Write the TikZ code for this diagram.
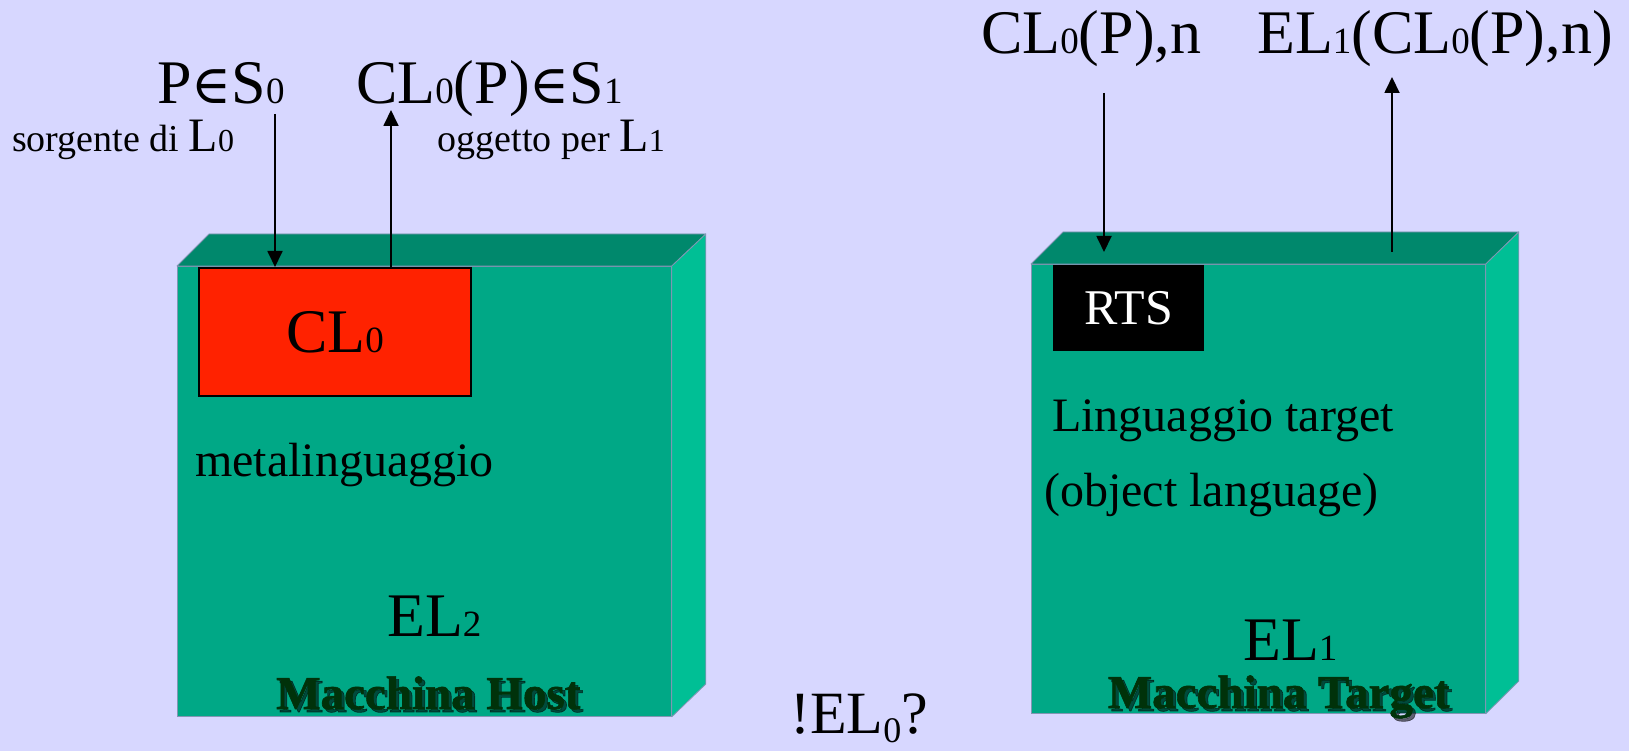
\documentclass[tikz,border=0pt]{standalone}
\usepackage{fontspec}
\setmainfont{Liberation Serif}
\newfontfamily\symf{DejaVu Serif}
\newfontfamily\machf[UprightFont={* Bold},FakeBold=1.3]{Liberation Serif}
\usetikzlibrary{arrows.meta}
\definecolor{bgc}{RGB}{215,215,255}
\definecolor{frontc}{RGB}{0,168,134}
\definecolor{topc}{RGB}{0,136,108}
\definecolor{sidec}{RGB}{0,191,149}
\definecolor{edgec}{RGB}{130,150,180}
\definecolor{redc}{RGB}{255,34,0}
\definecolor{labgreen}{RGB}{0,50,10}
\newcommand\fs[1]{\fontsize{#1}{#1}\selectfont}
\newcommand\dg[2]{{\fs{#1}#2}}
\newcommand\inn{{\symf\fs{54}∈}}
\begin{document}
\begin{tikzpicture}[x=1pt,y=-1pt,
  txt/.style={inner sep=0pt, anchor=base west},
  frontface/.style={fill=frontc, draw=edgec, line width=0.8pt, inner sep=0pt, anchor=north west},
  topface/.style={fill=topc, draw=edgec, line width=0.8pt, line join=round},
  sideface/.style={fill=sidec, draw=edgec, line width=0.8pt, line join=round},
  redbox/.style={fill=redc, draw=black, line width=1.8pt, inner sep=0pt, anchor=north west, font=\fs{62}},
  rtsbox/.style={fill=black, inner sep=0pt, anchor=north west, text=white, font=\fs{50}},
  arr/.style={line width=1.8pt, -{Triangle[width=15pt,length=16pt]}},
  mach/.style={txt, font=\machf\fs{47}, text=labgreen},
  machshadow/.style={txt, font=\machf\fs{47}, text=black, opacity=0.55}
]
\fill[bgc] (0,0) rectangle (1629,751);
\useasboundingbox (0,0) rectangle (1629,751);

% ---------- host machine ----------
\node[frontface, minimum width=494pt, minimum height=450pt] (hostF) at (177,266) {};
\path (hostF.north east) ++(34,-32) coordinate (hostB);
\draw[topface] (hostF.north west) -- ++(32,-32) -- (hostB) -- (hostF.north east) -- cycle;
\draw[sideface] (hostF.north east) -- (hostB) -- ++(0,450) -- (hostF.south east) -- cycle;

\node[redbox, minimum width=272pt, minimum height=128pt] (cl) at (198,267) {CL\dg{37}{0}};

\node[txt, font=\fs{48}] (meta) at (195,476) {metalinguaggio};
\node[txt, font=\fs{62}] (el2) at (387,636) {EL\dg{37}{2}};
\node[machshadow] (mhs) at (279,712) {Macchina Host};
\node[mach] (mh) at (276,709) {Macchina Host};

% ---------- target machine ----------
\node[frontface, minimum width=454pt, minimum height=449pt] (tgtF) at (1031,264) {};
\path (tgtF.north east) ++(33,-32) coordinate (tgtB);
\draw[topface] (tgtF.north west) -- ++(32,-32) -- (tgtB) -- (tgtF.north east) -- cycle;
\draw[sideface] (tgtF.north east) -- (tgtB) -- ++(0,449) -- (tgtF.south east) -- cycle;

\node[rtsbox, minimum width=151pt, minimum height=86pt] (rts) at (1053,265) {RTS};
\node[txt, font=\fs{48}] (ling) at (1052,431) {Linguaggio target};
\node[txt, font=\fs{48}] (obj) at (1044,506) {(object language)};
\node[txt, font=\fs{62}] (el1) at (1243,660) {EL\dg{37}{1}};
\node[machshadow] (mts) at (1110.6,711) {Macchina Target};
\node[mach] (mt) at (1107.6,708) {Macchina Target};

% ---------- labels on top ----------
\node[txt, font=\fs{62}] (pin) at (157,104) {P\inn S\dg{37}{0}};
\node[txt, font=\fs{62}] (clp) at (356,104) {CL\dg{37}{0}(P)\inn S\dg{37}{1}};
\node[txt, font=\fs{38}] (sorg) at (12,152) {sorgente di {\fs{48}L}\dg{32}{0}};
\node[txt, font=\fs{38}, anchor=base east] (ogg) at (665,152) {oggetto per {\fs{48}L}\dg{32}{1}};

\node[txt, font=\fs{62}] (cln) at (981,54) {CL\dg{37}{0}(P),n};
\node[txt, font=\fs{62}] (elcl) at (1257,54) {EL\dg{37}{1}(CL\dg{37}{0}(P),n)};

\node[txt, font=\fs{60}] (el0) at (790,733) {!EL\raisebox{-9pt}{\fs{36}0}?};

% ---------- arrows ----------
\coordinate (a1s) at (275,114);
\coordinate (a2e) at (391,110);
\coordinate (a3s) at (1104,93);
\coordinate (a3e) at (1104,252);
\coordinate (a4s) at (1392,252);
\coordinate (a4e) at (1392,77);
\draw[arr] (a1s) -- (a1s |- cl.north);
\draw[arr] (a2e |- cl.north) -- (a2e);
\draw[arr] (a3s) -- (a3e);
\draw[arr] (a4s) -- (a4e);
\end{tikzpicture}
\end{document}
